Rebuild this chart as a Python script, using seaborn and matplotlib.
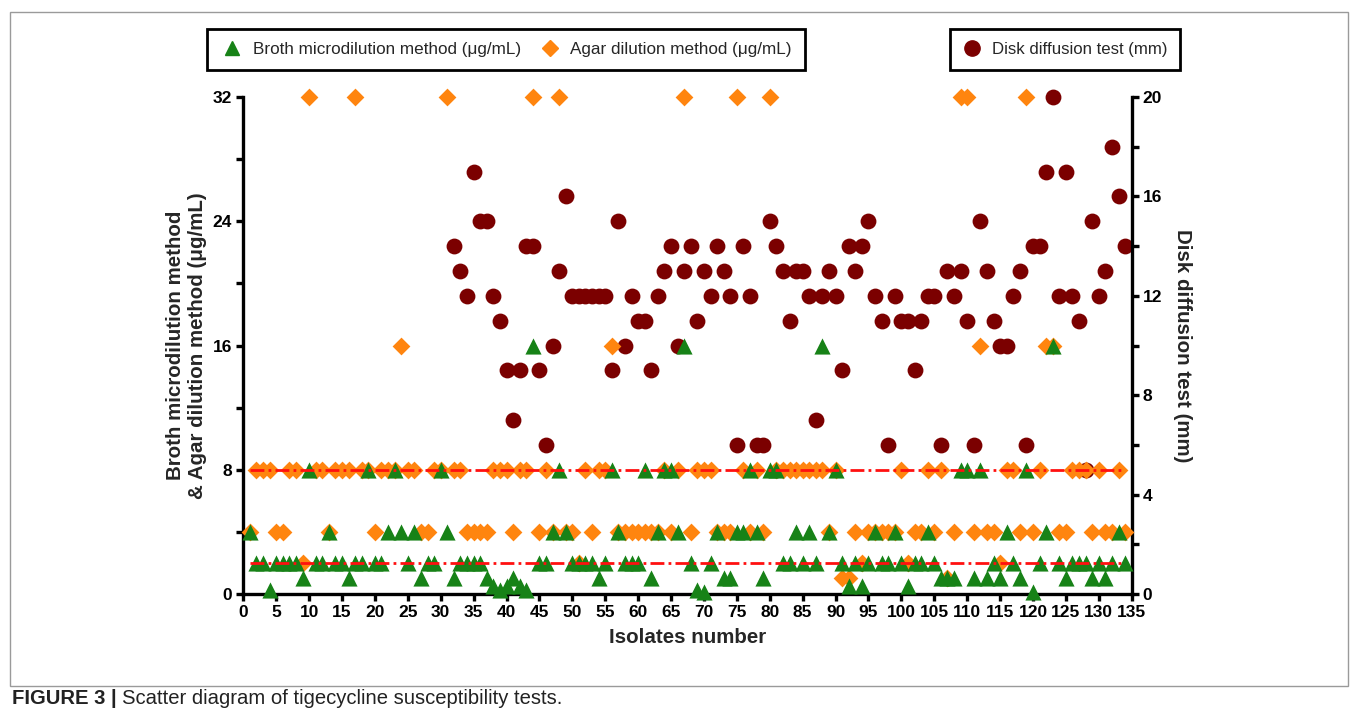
import matplotlib.pyplot as plt
import seaborn as sns
import pandas as pd
import numpy as np
from matplotlib.lines import Line2D
from matplotlib.patches import Rectangle
from matplotlib.ticker import MultipleLocator

sns.set_style("ticks")
plt.rcParams["font.family"] = ["Liberation Sans", "DejaVu Sans"]
plt.rcParams["font.weight"] = "bold"
plt.rcParams["axes.labelweight"] = "bold"

# ---- data (isolates 1..134) ----
isolates = list(range(1, 135))

broth_mic = [
    4, 2, 2, 0.25, 2, 2, 2, 2, 1, 8,
    2, 2, 4, 2, 2, 1, 2, 2, 8, 2,
    2, 4, 8, 4, 2, 4, 1, 2, 2, 8,
    4, 1, 2, 2, 2, 2, 1, 0.5, 0.25, 0.5,
    1, 0.5, 0.25, 16, 2, 2, 4, 8, 4, 2,
    2, 2, 2, 1, 2, 8, 4, 2, 2, 2,
    8, 1, 4, 8, 8, 4, 16, 2, 0.25, 0.125,
    2, 4, 1, 1, 4, 4, 8, 4, 1, 8,
    8, 2, 2, 4, 2, 4, 2, 16, 4, 8,
    2, 0.5, 2, 0.5, 2, 4, 2, 2, 4, 2,
    0.5, 2, 2, 4, 2, 1, 1, 1, 8, 8,
    1, 8, 1, 2, 1, 4, 2, 1, 8, 0.125,
    2, 4, 16, 2, 1, 2, 2, 2, 1, 2,
    1, 2, 4, 2,
]

agar_mic = [
    4, 8, 8, 8, 4, 4, 8, 8, 2, 32,
    8, 8, 4, 8, 8, 8, 32, 8, 8, 4,
    8, 8, 8, 16, 8, 8, 4, 4, 8, 8,
    32, 8, 8, 4, 4, 4, 4, 8, 8, 8,
    4, 8, 8, 32, 4, 8, 4, 32, 4, 4,
    2, 8, 4, 8, 8, 16, 4, 4, 4, 4,
    4, 4, 4, 8, 4, 8, 32, 4, 8, 8,
    8, 4, 4, 4, 32, 8, 4, 8, 4, 32,
    8, 8, 8, 8, 8, 8, 8, 8, 4, 8,
    1, 1, 4, 2, 4, 4, 4, 4, 4, 8,
    2, 4, 4, 8, 4, 8, 1, 4, 32, 32,
    4, 16, 4, 4, 2, 8, 8, 4, 32, 4,
    8, 16, 16, 4, 4, 8, 8, 8, 4, 8,
    4, 4, 8, 4,
]

# disk diffusion only measured from isolate 32 on
disk_mm = [np.nan] * 31 + [
    14, 13, 12, 17, 15, 15, 12, 11, 9,
    7, 9, 14, 14, 9, 6, 10, 13, 16, 12,
    12, 12, 12, 12, 12, 9, 15, 10, 12, 11,
    11, 9, 12, 13, 14, 10, 13, 14, 11, 13,
    12, 14, 13, 12, 6, 14, 12, 6, 6, 15,
    14, 13, 11, 13, 13, 12, 7, 12, 13, 12,
    9, 14, 13, 14, 15, 12, 11, 6, 12, 11,
    11, 9, 11, 12, 12, 6, 13, 12, 13, 11,
    6, 15, 13, 11, 10, 10, 12, 13, 6, 14,
    14, 17, 20, 12, 17, 12, 11, 5, 15, 12,
    13, 18, 16, 14,
]

breakpoints = [8, 2]

df = pd.DataFrame({"isolate": isolates, "broth": broth_mic,
                   "agar": agar_mic, "disk": disk_mm})

green = "#178217"
orange = "#FF850F"
maroon = "#7B0000"

fig = plt.figure(figsize=(13.58, 7.11), dpi=100)
ax = fig.add_axes([243.3 / 1358, 1 - 594 / 711, 888.4 / 1358, 497 / 711])
ax2 = ax.twinx()
ax.set_zorder(ax2.get_zorder() + 1)
ax.patch.set_visible(False)

# disk diffusion on right axis
sns.scatterplot(data=df, x="isolate", y="disk", marker="o", s=130, color=maroon,
                linewidth=0, ax=ax2, clip_on=False, legend=False)

sns.scatterplot(data=df, x="isolate", y="agar", marker="D", s=82, color=orange,
                linewidth=0, ax=ax, clip_on=False, legend=False, zorder=3)
sns.scatterplot(data=df, x="isolate", y="broth", marker="^", s=135, color=green,
                linewidth=0, ax=ax, clip_on=False, legend=False, zorder=4)

for bp in breakpoints:
    ax.plot([min(isolates), max(isolates)], [bp, bp], color="#FF1010", lw=2,
            ls=(0, (5, 1.5, 1, 1.5)), zorder=5)

ax.set_xlim(0, 135)
ax.set_ylim(0, 32)
ax2.set_ylim(0, 20)
ax.xaxis.set_major_locator(MultipleLocator(5))
ax.yaxis.set_major_locator(MultipleLocator(8))
ax.yaxis.set_minor_locator(MultipleLocator(4))
ax2.yaxis.set_major_locator(MultipleLocator(4))
ax2.yaxis.set_minor_locator(MultipleLocator(2))

for a in (ax, ax2):
    for s in a.spines.values():
        s.set_linewidth(2.4)
        s.set_color("black")
    a.spines["top"].set_visible(False)
    a.tick_params(which="both", direction="out", length=5, width=2.4,
                  labelsize=12.5, colors="black", pad=3)
ax.spines["right"].set_visible(False)
ax2.spines["left"].set_visible(False)
ax2.spines["bottom"].set_visible(False)

ax.set_xlabel("Isolates number", fontsize=14.8)
ax.set_ylabel("Broth microdilution method\n& Agar dilution method (\u03bcg/mL)",
              fontsize=14.8, multialignment="center")
ax2.set_ylabel("Disk diffusion test (mm)", fontsize=14.8, rotation=270)
ax.xaxis.set_label_coords(0.5, -0.068)
ax.xaxis.label.set_va("top")
ax.yaxis.set_label_coords(-0.041, 0.5)
ax2.yaxis.set_label_coords(1.047, 0.5)
ax2.yaxis.label.set_va("bottom")

# legends
h1 = [Line2D([], [], marker="^", ls="", color=green, ms=10.5),
      Line2D([], [], marker="D", ls="", color=orange, ms=8)]
leg1 = fig.legend(h1, ["Broth microdilution method (\u03bcg/mL)",
                       "Agar dilution method (\u03bcg/mL)"],
                  loc="center", bbox_to_anchor=(506 / 1358, 1 - 49.5 / 711), ncol=2,
                  prop={"weight": "normal", "size": 12.3}, frameon=True, fancybox=False,
                  edgecolor="black", framealpha=1, handletextpad=0.5,
                  columnspacing=1.0, borderpad=0.75, handlelength=1.4)
leg1.get_frame().set_linewidth(2)
h2 = [Line2D([], [], marker="o", ls="", color=maroon, ms=11)]
leg2 = fig.legend(h2, ["Disk diffusion test (mm)"], loc="center",
                  bbox_to_anchor=(1065 / 1358, 1 - 49.5 / 711),
                  prop={"weight": "normal", "size": 12.1}, frameon=True, fancybox=False,
                  edgecolor="black", framealpha=1, handletextpad=0.6,
                  borderpad=0.75, handlelength=1.2)
leg2.get_frame().set_linewidth(2)

# figure frame and caption
fig.patches.append(Rectangle((10 / 1358, 1 - 686 / 711), 1338 / 1358, 674 / 711,
                             transform=fig.transFigure, fill=False,
                             edgecolor="#9a9a9a", lw=1))
t1 = fig.text(12 / 1358, 1 - 698 / 711, "FIGURE 3 |", fontsize=14.6,
              weight="bold", color="#222222", va="center")
fig.canvas.draw()
bb = t1.get_window_extent()
fig.text((bb.x1 + 5) / 1358, 1 - 698 / 711,
         "Scatter diagram of tigecycline susceptibility tests.", fontsize=14.6,
         weight="normal", color="#222222", va="center")

fig.savefig("out.png", dpi=100)
